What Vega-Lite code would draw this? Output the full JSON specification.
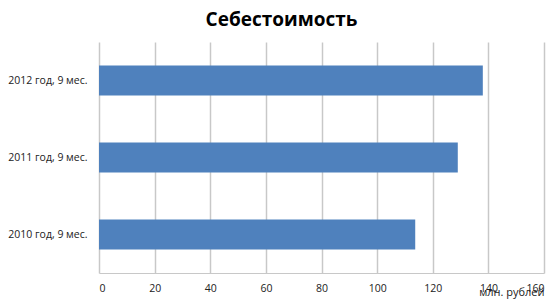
{
  "$schema": "https://vega.github.io/schema/vega-lite/v6.json",
  "autosize": {"type": "none"},
  "padding": {"left": 99, "top": 42, "right": 12, "bottom": 26},
  "width": 445,
  "height": 231,
  "background": "white",
  "title": {
    "text": "Себестоимость",
    "font": "Open Sans",
    "fontSize": 19,
    "fontWeight": "bold",
    "color": "#000000",
    "anchor": "middle",
    "dx": -40,
    "offset": 12
  },
  "data": {
    "values": [
      {"period": "2012 год, 9 мес.", "value": 138},
      {"period": "2011 год, 9 мес.", "value": 129},
      {"period": "2010 год, 9 мес.", "value": 113.7}
    ]
  },
  "mark": {"type": "bar", "color": "#4F81BD"},
  "encoding": {
    "y": {
      "field": "period",
      "type": "nominal",
      "sort": ["2012 год, 9 мес.", "2011 год, 9 мес.", "2010 год, 9 мес."],
      "scale": {"paddingInner": 0.61, "paddingOuter": 0.305},
      "axis": {
        "title": null,
        "domain": false,
        "ticks": false,
        "labelFont": "Open Sans",
        "labelFontSize": 10.5,
        "labelColor": "#222222",
        "labelPadding": 12
      }
    },
    "x": {
      "field": "value",
      "type": "quantitative",
      "scale": {"domain": [0, 160], "nice": false},
      "axis": {
        "values": [0, 20, 40, 60, 80, 100, 120, 140, 160],
        "title": "млн. рублей",
        "titleFont": "Open Sans",
        "titleFontSize": 11,
        "titleFontWeight": "normal",
        "titleColor": "#222222",
        "titleAlign": "right",
        "titleAnchor": null,
        "titleX": 445,
        "titleY": 19,
        "titleBaseline": "middle",
        "labelFont": "Open Sans",
        "labelFontSize": 10.5,
        "labelColor": "#222222",
        "labelPadding": 10,
        "ticks": false,
        "domainColor": "#c8c8c8",
        "grid": true,
        "gridColor": "#c8c8c8",
        "gridWidth": 1.5
      }
    }
  },
  "config": {
    "view": {"stroke": null}
  }
}
